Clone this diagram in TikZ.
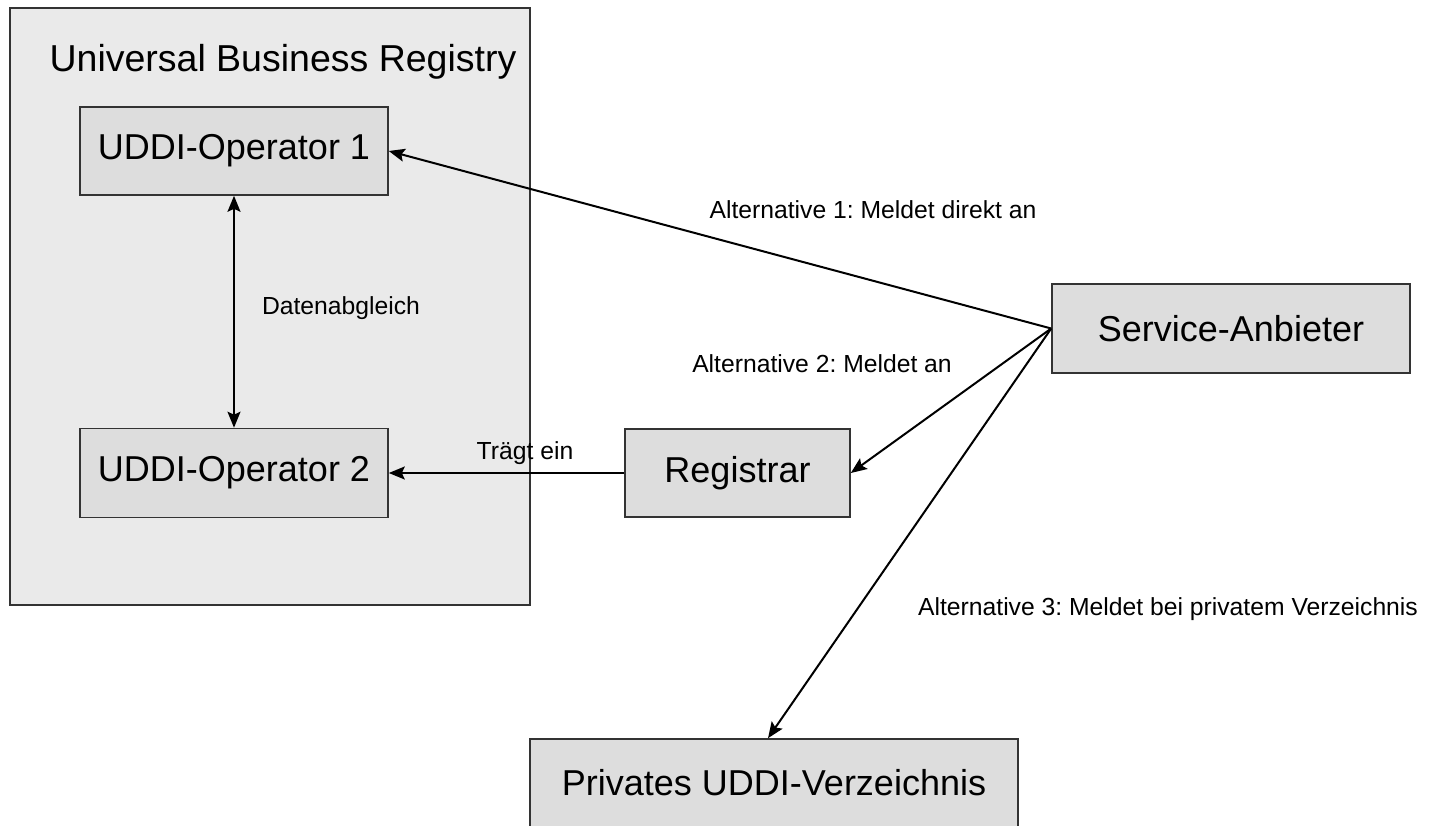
\documentclass[tikz,border=0pt]{standalone}
\usepackage{fontspec}
\setmainfont{Liberation Sans}
\usetikzlibrary{arrows.meta}
\frenchspacing
\definecolor{regfill}{HTML}{EAEAEA}
\definecolor{boxfill}{HTML}{DDDDDD}
\definecolor{boxline}{HTML}{333333}
\tikzset{
  bigtext/.style={font=\fontsize{36}{42}\selectfont},
  smalltext/.style={font=\fontsize{24.7}{30}\selectfont},
  unit/.style={draw=boxline, fill=boxfill, line width=1.6pt, bigtext,
    inner sep=0pt, anchor=center},
  link/.style={line width=2pt, -{Stealth[length=16pt,width=13pt,inset=3pt]}},
  biglink/.style={line width=2pt, {Stealth[length=16pt,width=13pt,inset=3pt]}-{Stealth[length=16pt,width=13pt,inset=3pt]}},
}
\begin{document}
\begin{tikzpicture}[x=1pt,y=-1pt]
\useasboundingbox (0,0) rectangle (1432,826);
\fill[white] (0,0) rectangle (1432,826);

% Registry frame
\draw[draw=boxline, fill=regfill, line width=1.6pt] (10,8) rectangle (530,605);
\node[font=\fontsize{37.5}{44}\selectfont] (ubr) at (283,62) {Universal Business Registry};

% Participants
\node[unit, minimum width=308pt, minimum height=88pt] (op1) at (234,151) {UDDI-Operator 1};
\node[unit, minimum width=308pt, minimum height=89pt] (op2) at (234,473) {UDDI-Operator 2};
\node[unit, minimum width=225pt, minimum height=88pt] (reg) at (737.5,473) {Registrar};
\node[unit, minimum width=358pt, minimum height=89pt] (sa) at (1231,328.5) {Service-Anbieter};
\node[unit, minimum width=488pt, minimum height=88pt] (pv) at (774,783) {Privates UDDI-Verzeichnis};

% Connectors
\draw[biglink] (op1.south) -- (op2.north);
\draw[link] (reg.west) -- (op2.east);
\draw[link] (sa.west) -- (op1.east);
\draw[link] (sa.west) -- (reg.east);
\draw[link] (sa.west) -- ([xshift=-6pt]pv.north);

% Labels
\node[smalltext] (l1) at (873,210) {Alternative 1: Meldet direkt an};
\node[smalltext] (l0) at (341,308) {Datenabgleich};
\node[smalltext] (l2) at (822,364) {Alternative 2: Meldet an};
\node[smalltext] (l4) at (525,453) {Trägt ein};
\node[smalltext] (l3) at (1168,609) {Alternative 3: Meldet bei privatem Verzeichnis};
\end{tikzpicture}
\end{document}
